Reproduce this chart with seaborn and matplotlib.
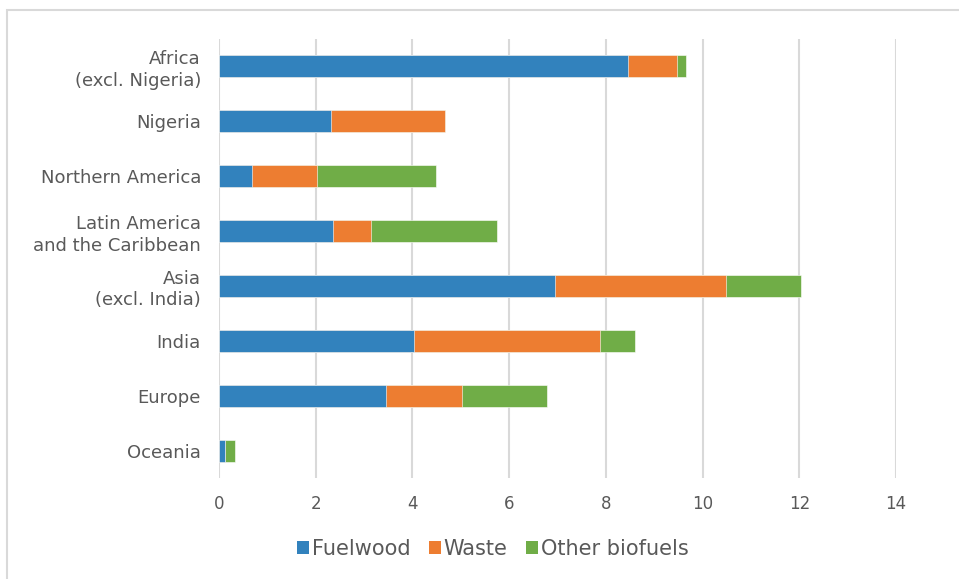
import matplotlib
matplotlib.use("Agg")
import matplotlib.pyplot as plt
from matplotlib.patches import Patch, Rectangle
import numpy as np
import pandas as pd
import seaborn as sns

# Regional biomass consumption by fuel type
regions = [
    "Africa\n(excl. Nigeria)",
    "Nigeria",
    "Northern America",
    "Latin America\nand the Caribbean",
    "Asia\n(excl. India)",
    "India",
    "Europe",
    "Oceania",
]
fuelwood = [8.46, 2.32, 0.69, 2.35, 6.95, 4.03, 3.45, 0.12]
waste = [1.02, 2.35, 1.34, 0.80, 3.54, 3.84, 1.58, 0.00]
other_biofuels = [0.17, 0.00, 2.46, 2.60, 1.54, 0.74, 1.75, 0.21]

series_names = ["Fuelwood", "Waste", "Other biofuels"]
colors = ["#3282bd", "#ed7d31", "#70ad47"]
x_ticks = [0, 2, 4, 6, 8, 10, 12, 14]

df = pd.DataFrame({
    "region": regions,
    "Fuelwood": fuelwood,
    "Waste": waste,
    "Other biofuels": other_biofuels,
})
# cumulative ends so each stacked segment starts where the previous ends
df["cum1"] = df["Fuelwood"]
df["cum2"] = df["cum1"] + df["Waste"]
df["cum3"] = df["cum2"] + df["Other biofuels"]

sns.set_theme(style="white")
plt.rcParams["font.family"] = ["DejaVu Sans"]
text_color = "#595959"
grid_color = "#d9d9d9"

fig = plt.figure(figsize=(9.59, 5.79), dpi=100)
ax = fig.add_axes([219 / 959, 1 - 478 / 579, 677 / 959, 439 / 579])

# Draw the longest (total) bars first, then overlay shorter cumulative bars
for col, color in zip(["cum3", "cum2", "cum1"], colors[::-1]):
    sns.barplot(data=df, x=col, y="region", order=regions, color=color,
                width=0.4, orient="h", ax=ax, saturation=1,
                edgecolor="white", linewidth=0.4)

ax.set_xlim(0, 14)
ax.set_xticks(x_ticks)
ax.set_xticklabels([str(t) for t in x_ticks])
ax.set_xlabel("")
ax.set_ylabel("")
ax.set_axisbelow(True)
ax.xaxis.grid(True, color=grid_color, linewidth=1.5)
ax.yaxis.grid(False)
for s in ax.spines.values():
    s.set_visible(False)
ax.tick_params(axis="x", length=0, pad=12, labelsize=12, labelcolor=text_color)
ax.tick_params(axis="y", length=0, pad=13, labelsize=13, labelcolor=text_color)
for lbl in ax.get_yticklabels():
    lbl.set_horizontalalignment("right")
    lbl.set_multialignment("right")
    lbl.set_linespacing(1.25)

handles = [Patch(facecolor=c, edgecolor="none", label=n)
           for n, c in zip(series_names, colors)]
leg = fig.legend(handles=handles, loc="center", bbox_to_anchor=(493 / 959, 1 - 549 / 579),
                 ncol=3, frameon=False, fontsize=15, handlelength=0.55,
                 handleheight=0.55, handletextpad=0.15, columnspacing=0.9)
for t in leg.get_texts():
    t.set_color(text_color)

# chart area frame
fig.patches.append(Rectangle((7 / 959, -0.1), 1.2, 1 - 10 / 579 + 0.1,
                             transform=fig.transFigure, fill=False,
                             edgecolor=grid_color, linewidth=1.5))

fig.savefig("out.png", dpi=100)
